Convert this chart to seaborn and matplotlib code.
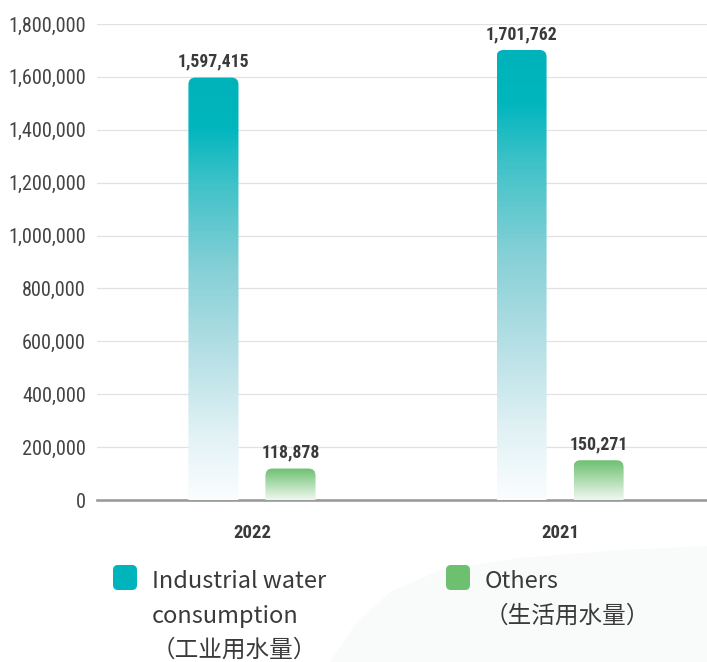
import numpy as np
import pandas as pd
import matplotlib
matplotlib.use("Agg")
import matplotlib.pyplot as plt
import seaborn as sns
from matplotlib import font_manager as fm
from matplotlib.patches import FancyBboxPatch, Polygon
from matplotlib.colors import LinearSegmentedColormap

# ---- data -------------------------------------------------------------
years = ["2022", "2021"]
series_names = ["Industrial water consumption", "Others"]
legend_lines = [
    ["Industrial water", "consumption", "（工业用水量）"],
    ["Others", "（生活用水量）"],
]
industrial = [1597415, 1701762]
others = [118878, 150271]
y_ticks = [0, 200000, 400000, 600000, 800000, 1000000, 1200000, 1400000,
           1600000, 1800000]

df = pd.DataFrame({
    "year": years * 2,
    "series": [series_names[0]] * len(years) + [series_names[1]] * len(years),
    "value": industrial + others,
})

# ---- style ------------------------------------------------------------
teal = "#00b4bc"
green = "#6cc070"
text_dark = "#3a3a3a"

sns.set_theme(style="white")
plt.rcParams["font.family"] = ["Noto Sans CJK SC", "DejaVu Sans"]

# pick a narrow face for the numbers
names = {f.name for f in fm.fontManager.ttflist}
num_stretch = "normal"
num_family = "DejaVu Sans"
scale = 0.75
for cand in ["Roboto Condensed", "Liberation Sans Narrow", "Open Sans Condensed"]:
    if cand in names:
        num_family = cand
        scale = 1.0
        break

W, H = 707, 662
fig = plt.figure(figsize=(W / 100, H / 100), dpi=100)
fig.patch.set_facecolor("white")

# faint backdrop shape behind the legend
bg_px = [(330, 662), (355, 625), (390, 592), (440, 570), (520, 558),
         (620, 550), (707, 546), (707, 662)]
fig.patches.append(Polygon([(x / W, 1 - y / H) for x, y in bg_px],
                           closed=True, transform=fig.transFigure,
                           facecolor="#f9fbfa", edgecolor="none", zorder=0))

ax_l, ax_r, ax_t, ax_b = 97, 707, 24, 500
ax = fig.add_axes([ax_l / W, 1 - ax_b / H, (ax_r - ax_l) / W, (ax_b - ax_t) / H])
ax.set_facecolor("none")

sns.barplot(data=df, x="year", y="value", hue="series", order=years,
            hue_order=series_names, palette=[teal, green], width=0.5,
            gap=0.35, legend=False, ax=ax, errorbar=None, saturation=1)

xlim = (-0.503, 1.477)
ax.set_xlim(*xlim)
ax.set_ylim(0, y_ticks[-1])
ax.set_yticks(y_ticks)
ax.set_yticklabels([f"{v:,}" for v in y_ticks])
ax.set_xlabel("")
ax.set_ylabel("")

for s in ["left", "right", "top"]:
    ax.spines[s].set_visible(False)
ax.spines["bottom"].set_color("#9b9b9b")
ax.spines["bottom"].set_linewidth(1.9)
ax.yaxis.grid(True, color="#e2e2e2", linewidth=0.9)
ax.xaxis.grid(False)
ax.set_axisbelow(True)

ax.tick_params(axis="y", length=0, pad=8, labelsize=14.6 * scale,
               labelcolor="#444444")
ax.tick_params(axis="x", length=0, pad=17, labelsize=13.5 * scale,
               labelcolor=text_dark)
for lab in ax.get_yticklabels():
    lab.set_family(num_family)
    lab.set_stretch(num_stretch)
for lab in ax.get_xticklabels():
    lab.set_family(num_family)
    lab.set_stretch(num_stretch)
    lab.set_fontweight("bold")

# ---- gradient bars with rounded tops ----------------------------------
xpd = (xlim[1] - xlim[0]) / (ax_r - ax_l)
ypd = y_ticks[-1] / (ax_b - ax_t)
radius_px = 7

cmaps = [
    LinearSegmentedColormap.from_list("ind", [
        (0.0, "#fbfdfe"), (0.15, "#e2f2f5"), (0.35, "#b4dfe5"),
        (0.55, "#84d0d6"), (0.75, "#3ec2c8"), (0.88, "#02b6be"),
        (1.0, "#00b3bb")]),
    LinearSegmentedColormap.from_list("oth", [
        (0.0, "#f0f8f0"), (0.45, "#b5dfb6"), (1.0, "#6cc070")]),
]
grad = np.linspace(0, 1, 256).reshape(-1, 1)

for i, cont in enumerate(ax.containers):
    for bar in cont.patches:
        x0 = bar.get_x()
        w = bar.get_width()
        h = bar.get_height()
        bar.set_visible(False)
        im = ax.imshow(grad, extent=[x0, x0 + w, 0, h], origin="lower",
                       aspect="auto", cmap=cmaps[i], zorder=3,
                       interpolation="bilinear")
        clip = FancyBboxPatch((x0, -20 * ypd), w, h + 20 * ypd,
                              boxstyle=f"round,pad=0,rounding_size={radius_px * xpd}",
                              mutation_aspect=ypd / xpd,
                              transform=ax.transData)
        im.set_clip_path(clip)
    labels = ax.bar_label(cont, labels=[f"{v:,.0f}" for v in cont.datavalues],
                          padding=5, fontsize=12.8 * scale, fontweight="bold",
                          color=text_dark, family=num_family)
    for t in labels:
        t.set_stretch(num_stretch)

ax.set_xlim(*xlim)
ax.set_ylim(0, y_ticks[-1])

# ---- legend ----------------------------------------------------------
marker_x = [113, 446]
text_x = [152, 485]
baselines = [588, 623, 657]
for i, col in enumerate([teal, green]):
    mx = marker_x[i]
    fig.patches.append(FancyBboxPatch(
        (mx / W, 1 - 590 / H), 24 / W, 25 / H,
        boxstyle=f"round,pad=0,rounding_size={5 / W}",
        mutation_aspect=W / H, transform=fig.transFigure,
        facecolor=col, edgecolor="none", zorder=2))
    for j, line in enumerate(legend_lines[i]):
        fig.text(text_x[i] / W, 1 - baselines[j] / H, line, va="baseline",
                 ha="left", fontsize=17, color=text_dark)

fig.savefig("out.png", dpi=100, facecolor="white")
